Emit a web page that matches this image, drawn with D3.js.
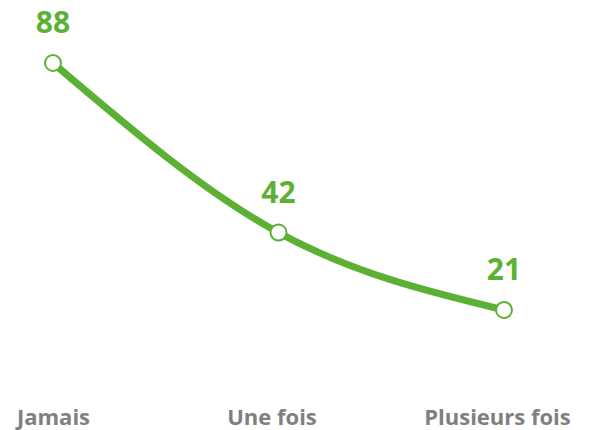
<!DOCTYPE html>
<html><head><meta charset="utf-8">
<script src="https://cdn.jsdelivr.net/npm/d3@7"></script>
<style>body{margin:0;background:#fff;}svg{display:block;}</style>
</head><body>
<script>
const categories = ["Jamais", "Une fois", "Plusieurs fois"];
const values = [88, 42, 21];

const W = 596, H = 430;
const green = "#5cb135";
const svg = d3.select("body").append("svg").attr("width", W).attr("height", H);

const x = d3.scalePoint().domain(categories).range([53, 504]);
const y = d3.scaleLinear().domain([0, 88]).range([387.4, 63]);

const data = categories.map((c, i) => ({c, v: values[i]}));

const line = d3.line().x(d => x(d.c)).y(d => y(d.v)).curve(d3.curveMonotoneX);

svg.append("path").datum(data).attr("d", line)
  .attr("fill", "none").attr("stroke", green).attr("stroke-width", 7)
  .attr("stroke-linecap", "round");

svg.selectAll("circle.pt").data(data).join("circle").attr("class", "pt")
  .attr("cx", d => x(d.c)).attr("cy", d => y(d.v)).attr("r", 8)
  .attr("fill", "#fff").attr("stroke", green).attr("stroke-width", 2);

svg.selectAll("text.val").data(data).join("text").attr("class", "val")
  .attr("x", d => x(d.c)).attr("y", d => y(d.v) - 30)
  .attr("text-anchor", "middle")
  .attr("font-family", "'Open Sans', sans-serif").attr("font-weight", "bold")
  .attr("font-size", 30).attr("fill", green)
  .text(d => d.v);

const xAxis = d3.axisBottom(x).tickSize(0).tickPadding(0);
const gx = svg.append("g").attr("transform", "translate(0,409)").call(xAxis);
gx.select(".domain").remove();
gx.selectAll("text").attr("font-family", "'Open Sans', sans-serif")
  .attr("font-weight", "bold").attr("font-size", 22).attr("fill", "#808080")
  .attr("dx", (d, i) => i === 0 ? 0 : -7);
</script>
</body></html>
